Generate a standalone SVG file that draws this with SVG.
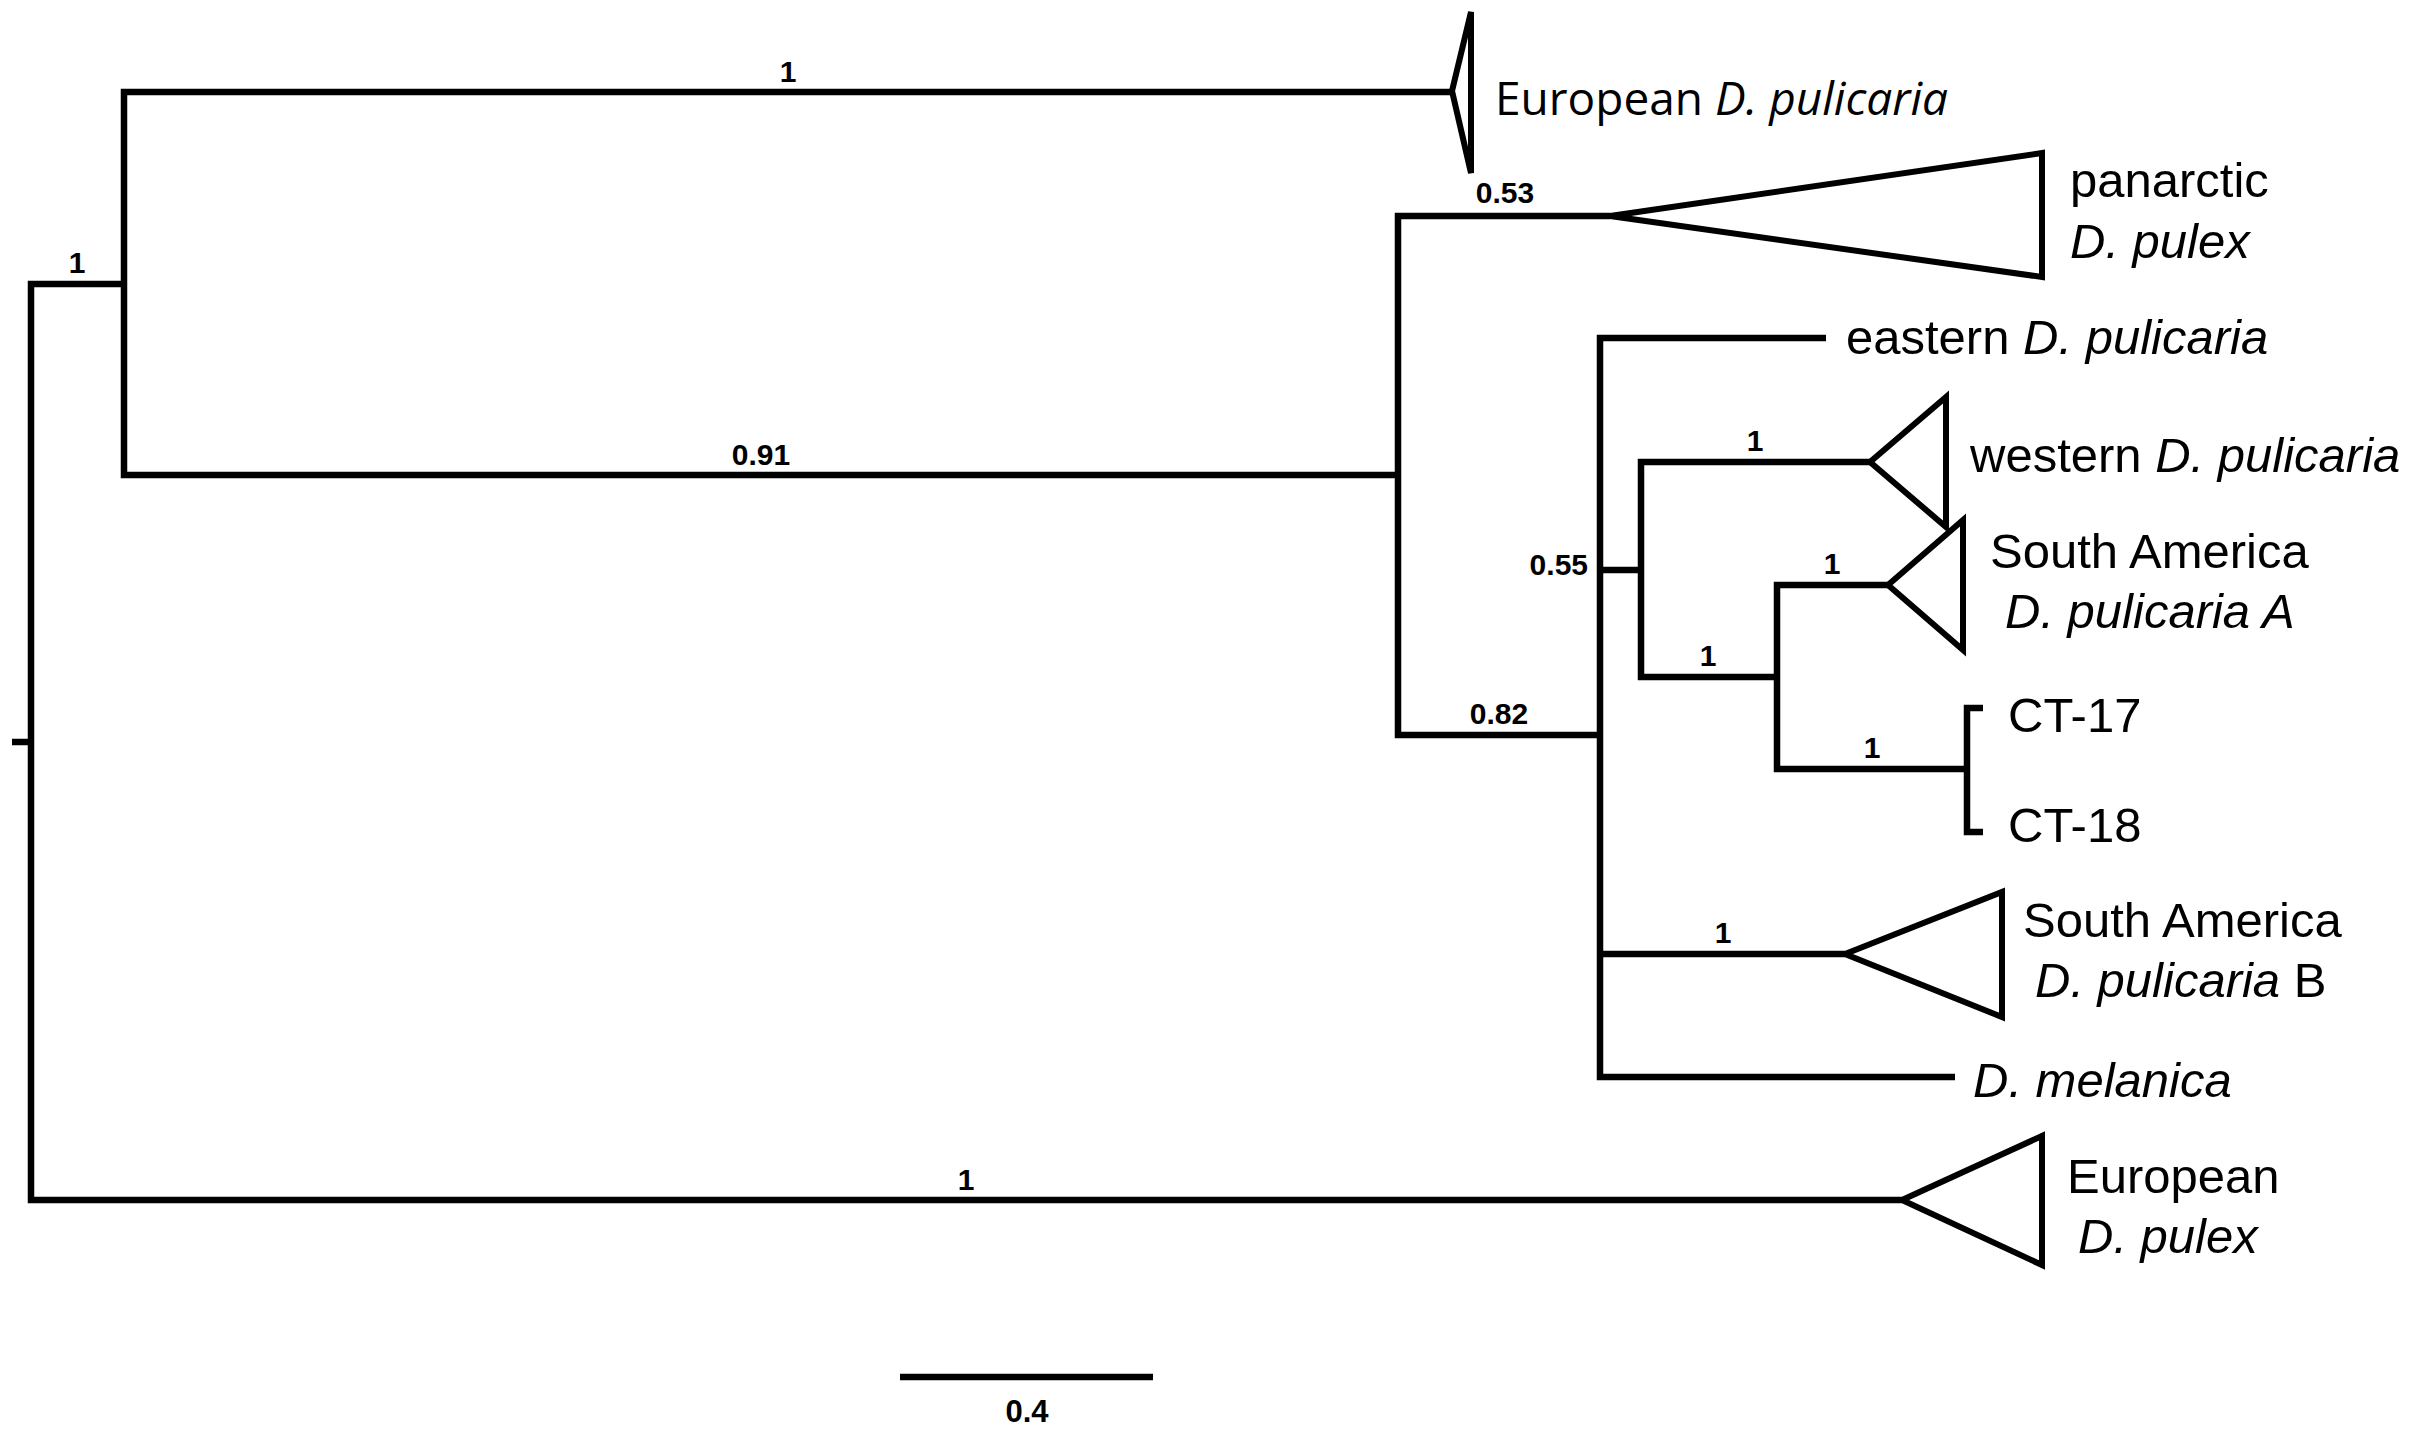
<svg xmlns="http://www.w3.org/2000/svg" width="2416" height="1435" viewBox="0 0 2416 1435">
<style>
.br{fill:none;stroke:#000;stroke-width:6.5;stroke-linejoin:miter;stroke-linecap:butt}
.tri{fill:none;stroke:#000;stroke-width:6;stroke-linejoin:miter;stroke-miterlimit:4}
.sup{font-family:"Liberation Sans",Arial,sans-serif;font-size:30px;font-weight:bold;fill:#000;text-anchor:middle}
.lab{font-family:"Liberation Sans",Arial,sans-serif;font-size:49px;fill:#000}
.it{font-style:italic}
</style>
<rect width="2416" height="1435" fill="#fff"/>
<g id="connectors">
<path class="br" d="M12,742 H31"/>
<path class="br" d="M31,742 V284 H124"/>
<path class="br" d="M31,742 V1200 H1902"/>
<path class="br" d="M124,284 V92 H1452"/>
<path class="br" d="M124,284 V475 H1398"/>
<path class="br" d="M1398,475 V216 H1610"/>
<path class="br" d="M1398,475 V735 H1600"/>
<path class="br" d="M1600,735 V338 H1826"/>
<path class="br" d="M1600,735 V1077 H1955"/>
<path class="br" d="M1600,954 H1845"/>
<path class="br" d="M1600,570 H1641"/>
<path class="br" d="M1641,570 V462 H1870"/>
<path class="br" d="M1641,570 V677 H1777"/>
<path class="br" d="M1777,677 V585 H1888"/>
<path class="br" d="M1777,677 V769 H1967"/>
<path class="br" d="M1967,769 V708 H1983"/>
<path class="br" d="M1967,769 V832 H1983"/>
</g>
<g id="support-values">
<text class="sup" x="77" y="273">1</text>
<text class="sup" x="788" y="82">1</text>
<text class="sup" x="761" y="465">0.91</text>
<text class="sup" x="1505" y="203">0.53</text>
<text class="sup" x="1499" y="724">0.82</text>
<text class="sup" x="1588" y="575" style="text-anchor:end">0.55</text>
<text class="sup" x="1755" y="451">1</text>
<text class="sup" x="1832" y="574">1</text>
<text class="sup" x="1708" y="666">1</text>
<text class="sup" x="1872" y="758">1</text>
<text class="sup" x="1723" y="943">1</text>
<text class="sup" x="966" y="1190">1</text>
</g>
<g id="european-d-pulicaria">
<polygon class="tri" points="1452,91 1471,12 1471,173"/>
<text x="1495" y="115" style="font-family:'Open Sans','Noto Sans',sans-serif;font-size:46px">European <tspan class="it">D. pulicaria</tspan></text>
</g>
<g id="panarctic-d-pulex">
<polygon class="tri" points="1610,216 2042,153 2042,277"/>
<text class="lab" x="2070" y="197">panarctic</text>
<text class="lab it" x="2070" y="258">D. pulex</text>
</g>
<g id="eastern-d-pulicaria">
<text class="lab" x="1846" y="354">eastern <tspan class="it">D. pulicaria</tspan></text>
</g>
<g id="western-d-pulicaria">
<polygon class="tri" points="1870,462 1946,397 1946,527"/>
<text class="lab" x="1970" y="472">western <tspan class="it">D. pulicaria</tspan></text>
</g>
<g id="south-america-a">
<polygon class="tri" points="1888,585 1963,520 1963,650"/>
<text class="lab" x="1990" y="568">South America</text>
<text class="lab it" x="2005" y="628">D. pulicaria A</text>
</g>
<g id="ct-17">
<text class="lab" x="2008" y="732">CT-17</text>
</g>
<g id="ct-18">
<text class="lab" x="2008" y="842">CT-18</text>
</g>
<g id="south-america-b">
<polygon class="tri" points="1845,954 2002,892 2002,1017"/>
<text class="lab" x="2023" y="937">South America</text>
<text class="lab" x="2035" y="997"><tspan class="it">D. pulicaria</tspan> B</text>
</g>
<g id="d-melanica">
<text class="lab it" x="1973" y="1097">D. melanica</text>
</g>
<g id="european-d-pulex">
<polygon class="tri" points="1902,1200 2042,1136 2042,1265"/>
<text class="lab" x="2067" y="1193">European</text>
<text class="lab it" x="2078" y="1253">D. pulex</text>
</g>
<g id="scale-bar">
<path class="br" d="M900,1377 H1153"/>
<text class="sup" x="1027" y="1422" style="font-size:31px">0.4</text>
</g>
</svg>
